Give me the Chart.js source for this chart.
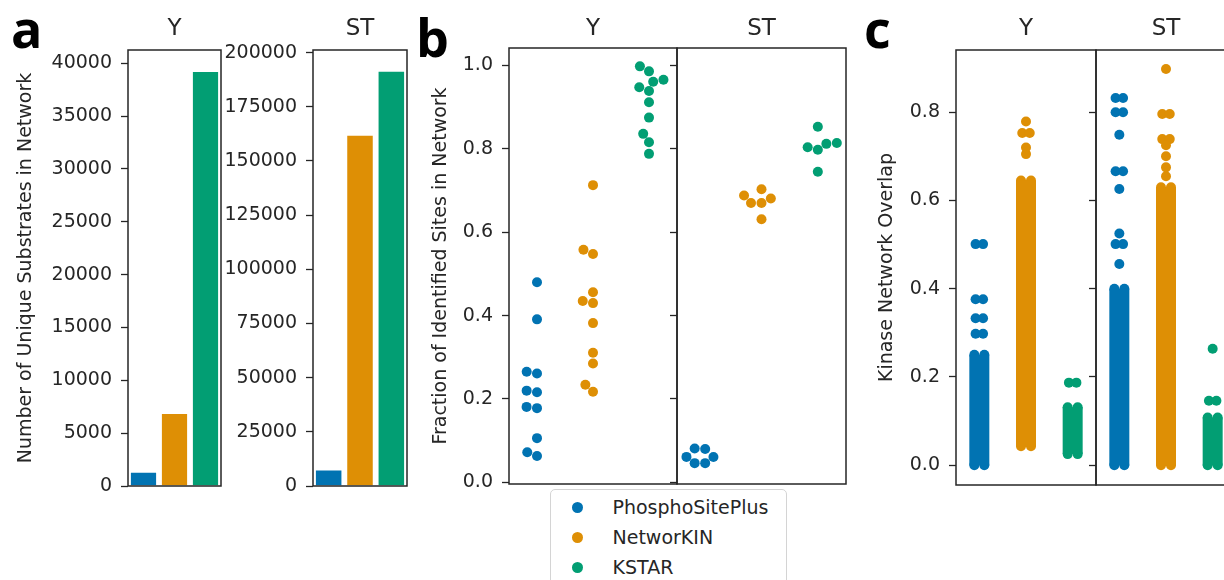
<!DOCTYPE html>
<html>
<head>
<meta charset="utf-8">
<title>Kinase network coverage</title>
<script src="https://cdn.jsdelivr.net/npm/chart.js@4.4.1/dist/chart.umd.min.js"></script>
<style>
  html, body { margin: 0; padding: 0; background: #fff; }
  #figure { position: relative; width: 1224px; height: 580px; overflow: hidden; }
  #figure canvas { position: absolute; top: 0; }
  .letter { position: absolute; top: 2px; font-family: "Open Sans", sans-serif; font-weight: 700;
            font-size: 52px; line-height: 1; color: #000; }
  #legend { position: absolute; left: 550px; top: 489px; width: 235px; height: 120px;
            border: 1px solid #d4d4d4; border-radius: 5px; background: #fff;
            font-family: "DejaVu Sans", sans-serif; font-size: 19px; color: #262626; }
  #legend .row { position: absolute; left: 0; height: 30px; line-height: 30px; white-space: nowrap; }
  #legend .dot { position: absolute; left: 20.5px; top: 9.5px; width: 11px; height: 11px; border-radius: 50%; }
  #legend .txt { position: absolute; left: 61.5px; top: 0; }
</style>
</head>
<body>
<div id="figure">
  <div class="letter" style="left:11px">a</div>
  <div class="letter" style="left:416px; top:11px">b</div>
  <div class="letter" style="left:864px">c</div>
  <div id="legend"></div>
</div>
<script>
// networks compared in every panel
const sources = ['PhosphoSitePlus', 'NetworKIN', 'KSTAR'];
const palette = ['#0173b2', '#de8f05', '#029e73'];

// a: number of unique substrates in each network
const substratesY = [1400, 6950, 39300];
const substratesST = [7800, 162300, 191800];
const ticksSubY = [0, 5000, 10000, 15000, 20000, 25000, 30000, 35000, 40000];
const ticksSubST = [0, 25000, 50000, 75000, 100000, 125000, 150000, 175000, 200000];

// b: fraction of identified sites in network, one point per experiment
const fracY_psp = [0.480, 0.391, 0.2655, 0.261, 0.220, 0.216, 0.181, 0.178, 0.106, 0.072, 0.063];
const fracY_nkin = [0.713, 0.558, 0.548, 0.456, 0.435, 0.430, 0.382, 0.311, 0.285, 0.234, 0.2175];
const fracY_kstar = [0.998, 0.986, 0.966, 0.961, 0.948, 0.939, 0.912, 0.875, 0.836, 0.816, 0.788];
const fracST_psp = [0.081, 0.080, 0.061, 0.0608, 0.046, 0.046];
const fracST_nkin = [0.703, 0.688, 0.681, 0.670, 0.670, 0.631];
const fracST_kstar = [0.853, 0.814, 0.812, 0.804, 0.798, 0.745];
const ticksFrac = [0, 0.2, 0.4, 0.6, 0.8, 1.0];

// c: kinase network overlap. The solid runs of points are [low, high];
// separate levels above them are either pairs (side by side) or single points
const overlapBandY = [[0, 0.25], [0.043, 0.645], [0.025, 0.131]];
const overlapPairsY = [[0.298, 0.333, 0.376, 0.501], [0.753], [0.187]];
const overlapSinglesY = [[], [0.705, 0.720, 0.779], []];
const overlapBandST = [[0, 0.40], [0, 0.63], [0, 0.108]];
const overlapPairsST = [[0.501, 0.666, 0.800, 0.832], [0.739, 0.796], [0.146]];
const overlapSinglesST = [[0.456, 0.525, 0.626, 0.749], [0.655, 0.675, 0.700, 0.725, 0.898], [0.264]];
const ticksOverlap = [0, 0.2, 0.4, 0.6, 0.8];

const INK = '#262626';
Chart.defaults.font.family = '"DejaVu Sans", sans-serif';
Chart.defaults.font.size = 19;
Chart.defaults.color = INK;
Chart.defaults.animation = false;
Chart.defaults.responsive = false;
Chart.defaults.plugins.legend.display = false;
Chart.defaults.plugins.tooltip.enabled = false;

// box round the plot area, drawn over the points like matplotlib spines
const frame = {
  id: 'frame',
  afterDatasetsDraw(chart) {
    const { ctx, chartArea: a } = chart;
    ctx.save();
    ctx.strokeStyle = INK;
    ctx.lineWidth = 1.5;
    ctx.strokeRect(a.left, a.top, a.right - a.left, a.bottom - a.top);
    ctx.restore();
  }
};

// legend of panel b as html under the axes
const htmlLegend = {
  id: 'htmlLegend',
  afterUpdate(chart) {
    const box = document.getElementById('legend');
    box.innerHTML = '';
    Chart.defaults.plugins.legend.labels.generateLabels(chart).forEach((item, i) => {
      const row = document.createElement('div');
      row.className = 'row';
      row.style.top = (2.4 + 30 * i) + 'px';
      const dot = document.createElement('span');
      dot.className = 'dot';
      dot.style.background = item.fillStyle;
      const txt = document.createElement('span');
      txt.className = 'txt';
      txt.textContent = item.text;
      row.appendChild(dot);
      row.appendChild(txt);
      box.appendChild(row);
    });
  }
};

const hidden = { grid: { display: false }, border: { display: false }, ticks: { display: false } };

// one subplot; box gives the plot area in page pixels
function subplot(box, cfg) {
  const left = box.left - box.axisW;
  const canvas = document.createElement('canvas');
  canvas.width = box.right - left + 2;
  canvas.height = box.bottom + 40;
  canvas.style.left = left + 'px';
  document.getElementById('figure').insertBefore(canvas, document.getElementById('legend'));

  return new Chart(canvas, {
    type: cfg.type,
    data: cfg.data,
    plugins: [frame].concat(cfg.plugins || []),
    options: {
      devicePixelRatio: 1,
      layout: { autoPadding: false, padding: { right: 2 } },
      scales: {
        x: Object.assign({ position: 'bottom', afterFit: s => { s.height = 40; } }, cfg.x, hidden),
        top: Object.assign({
          axis: 'x', type: cfg.x.type, position: 'top',
          afterFit: s => { s.height = box.top; },
          title: { display: true, text: cfg.title, font: { size: 23 }, padding: { top: 15.7, bottom: 0 } }
        }, hidden),
        y: {
          type: 'linear', position: 'left', bounds: 'data',
          min: cfg.yRange[0], max: cfg.yRange[1],
          afterBuildTicks: s => { s.ticks = cfg.ticks.map(v => ({ value: v })); },
          afterFit: s => { s.width = box.axisW; },
          grid: { drawOnChartArea: false, drawTicks: true, tickLength: 7, tickWidth: 1.3, tickColor: INK },
          border: { display: false },
          ticks: { display: cfg.labels !== false, padding: 9, callback: cfg.fmt },
          title: {
            display: !!cfg.axisTitle, text: cfg.axisTitle || '',
            padding: { top: cfg.axisTitlePad || 0, bottom: 0 }
          }
        }
      }
    }
  });
}

// ---- a: bar charts ----
function barData(values) {
  return {
    labels: sources,
    datasets: [{
      data: values,
      backgroundColor: palette,
      borderColor: '#ffffff',
      borderWidth: 1.5,
      barPercentage: 0.91,
      categoryPercentage: 1
    }]
  };
}
const intLabel = v => String(v);

subplot({ left: 128, right: 221, top: 50, bottom: 486, axisW: 128 }, {
  type: 'bar', data: barData(substratesY), x: { type: 'category' }, title: 'Y',
  yRange: [0, 41250], ticks: ticksSubY, fmt: intLabel,
  axisTitle: 'Number of Unique Substrates in Network', axisTitlePad: 15.1
});
subplot({ left: 313, right: 407, top: 50, bottom: 486, axisW: 93 }, {
  type: 'bar', data: barData(substratesST), x: { type: 'category' }, title: 'ST',
  yRange: [0, 201200], ticks: ticksSubST, fmt: intLabel
});

// ---- b: swarm plots ----
const oneDecimal = v => v.toFixed(1);
const pointStyle = k => ({
  backgroundColor: palette[k], borderWidth: 0,
  pointRadius: 5, pointHoverRadius: 5
});
function stripData(groups) {
  return {
    datasets: groups.map((vals, k) => Object.assign({
      label: sources[k],
      data: vals.map(v => ({ x: k, y: v }))
    }, pointStyle(k)))
  };
}

// seaborn-style beeswarm: points sorted by value, each placed at the
// free candidate position closest to the category centre
function swarm(chart, r) {
  const xs = chart.scales.x, ys = chart.scales.y;
  const unit = xs.getPixelForValue(1) - xs.getPixelForValue(0);
  chart.data.datasets.forEach((ds, k) => {
    const mid = xs.getPixelForValue(k);
    const vals = ds.data.map(p => p.y).sort((a, b) => a - b);
    const placed = [];
    vals.forEach(v => {
      const py = ys.getPixelForValue(v);
      const nb = [];
      for (let j = placed.length - 1; j >= 0; j--) {
        if (Math.abs(placed[j].py - py) <= 2 * r) nb.push(placed[j]); else break;
      }
      const cands = [mid];
      let leftFirst = true;
      nb.forEach(q => {
        const dy = py - q.py;
        const dx = Math.sqrt(Math.max(4 * r * r - dy * dy, 0)) * 1.05;
        const pair = leftFirst ? [q.px - dx, q.px + dx] : [q.px + dx, q.px - dx];
        cands.push(pair[0], pair[1]);
        leftFirst = !leftFirst;
      });
      cands.sort((a, b) => Math.abs(a - mid) - Math.abs(b - mid));
      const px = cands.find(c => nb.every(q => (q.px - c) ** 2 + (q.py - py) ** 2 >= 4 * r * r));
      placed.push({ px, py, v });
    });
    ds.data = placed.map(p => ({ x: k + (p.px - mid) / unit, y: p.v }));
  });
  chart.update('none');
}

const linX = { type: 'linear', min: -0.5, max: 2.5, bounds: 'data' };

const bY = subplot({ left: 509, right: 677, top: 48, bottom: 484, axisW: 89 }, {
  type: 'scatter', data: stripData([fracY_psp, fracY_nkin, fracY_kstar]), x: linX, title: 'Y',
  yRange: [-0.004, 1.042], ticks: ticksFrac, fmt: oneDecimal,
  axisTitle: 'Fraction of Identified Sites in Network', axisTitlePad: 9.6,
  plugins: [htmlLegend]
});
swarm(bY, 5);
const bST = subplot({ left: 677, right: 846, top: 48, bottom: 484, axisW: 10 }, {
  type: 'scatter', data: stripData([fracST_psp, fracST_nkin, fracST_kstar]), x: linX, title: 'ST',
  yRange: [-0.004, 1.042], ticks: ticksFrac, fmt: oneDecimal, labels: false
});
swarm(bST, 5);

// ---- c: strip plots ----
const bandJitter = 0.107;   // half width of a solid run, category units
const pairJitter = 0.08;
function overlapData(bands, pairs, singles) {
  const datasets = [];
  bands.forEach((band, k) => {
    datasets.push({
      type: 'line', showLine: true,
      data: [{ x: k, y: band[0] }, { x: k, y: band[1] }],
      borderColor: palette[k], borderWidth: 20, borderCapStyle: 'butt', pointRadius: 0
    });
    const pts = [];
    band.forEach(v => { pts.push({ x: k - bandJitter, y: v }, { x: k + bandJitter, y: v }); });
    pairs[k].forEach(v => { pts.push({ x: k - pairJitter, y: v }, { x: k + pairJitter, y: v }); });
    singles[k].forEach(v => { pts.push({ x: k, y: v }); });
    datasets.push(Object.assign({ label: sources[k], data: pts }, pointStyle(k)));
  });
  return { datasets };
}

subplot({ left: 956, right: 1096, top: 50, bottom: 485, axisW: 96 }, {
  type: 'scatter', data: overlapData(overlapBandY, overlapPairsY, overlapSinglesY), x: linX, title: 'Y',
  yRange: [-0.045, 0.941], ticks: ticksOverlap, fmt: oneDecimal,
  axisTitle: 'Kinase Network Overlap', axisTitlePad: 15.3
});
subplot({ left: 1096, right: 1236, top: 50, bottom: 485, axisW: 10 }, {
  type: 'scatter', data: overlapData(overlapBandST, overlapPairsST, overlapSinglesST), x: linX, title: 'ST',
  yRange: [-0.045, 0.941], ticks: ticksOverlap, fmt: oneDecimal, labels: false
});
</script>
</body>
</html>
